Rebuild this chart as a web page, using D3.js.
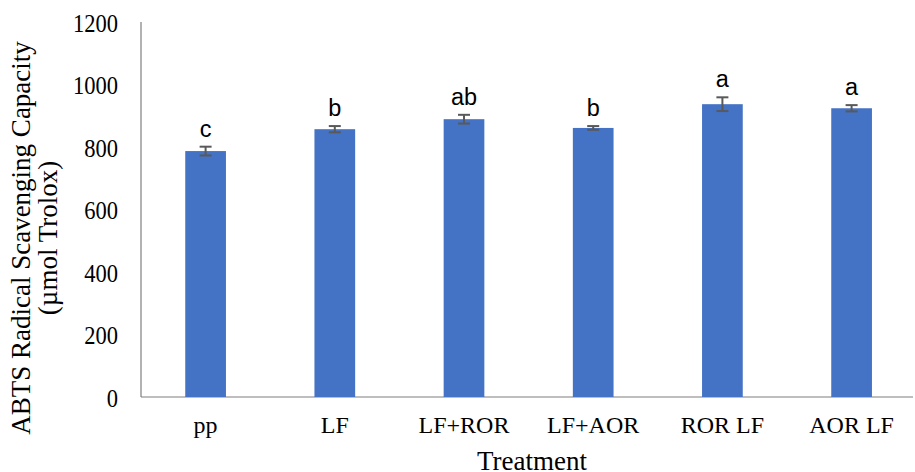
<!DOCTYPE html>
<html><head><meta charset="utf-8">
<script src="https://cdn.jsdelivr.net/npm/d3@7"></script>
<style>body{margin:0;background:#fff}</style>
</head><body>
<svg id="c" width="915" height="472"></svg>
<script>
const categories = ["pp","LF","LF+ROR","LF+AOR","ROR LF","AOR LF"];
const values = [787, 857, 889, 861, 937, 924];
const errors = [14, 10, 14, 6, 22, 10];
const letters = ["c","b","ab","b","a","a"];
const yTicks = [0,200,400,600,800,1000,1200];

const svg = d3.select("#c");
const m = {left:141, right:915, top:22, bottom:397};
const x = d3.scaleBand().domain(categories).range([m.left, m.left+6*129.2]).paddingInner(0.685).paddingOuter(0.3425);
const y = d3.scaleLinear().domain([0,1200]).range([m.bottom, m.top]);
const serif = "'Liberation Serif', 'Times New Roman', serif";

// axes lines
svg.append("line").attr("x1",m.left).attr("x2",m.left).attr("y1",y(1200)).attr("y2",y(0)).attr("stroke","#7f7f7f").attr("stroke-width",1.2);
svg.append("line").attr("x1",m.left).attr("x2",913).attr("y1",y(0)).attr("y2",y(0)).attr("stroke","#7f7f7f").attr("stroke-width",1.2);

// y tick labels
const fsT = 24.5;
svg.selectAll(".yt").data(yTicks).enter().append("text")
  .attr("transform",d=>`translate(118,${y(d)+9.5}) scale(0.92,1)`).attr("text-anchor","end")
  .attr("font-family",serif).attr("font-size",fsT).attr("fill","#000").text(d=>d);

// bars
svg.selectAll(".bar").data(categories).enter().append("rect")
  .attr("x",d=>x(d)).attr("width",x.bandwidth())
  .attr("y",(d,i)=>y(values[i])).attr("height",(d,i)=>y(0)-y(values[i]))
  .attr("fill","#4472C4");

// error bars
const eg = svg.selectAll(".err").data(categories).enter().append("g").attr("stroke","#595959").attr("stroke-width",2);
eg.append("line").attr("x1",d=>x(d)+x.bandwidth()/2).attr("x2",d=>x(d)+x.bandwidth()/2)
  .attr("y1",(d,i)=>y(values[i]+errors[i])).attr("y2",(d,i)=>y(values[i]-errors[i]));
eg.append("line").attr("x1",d=>x(d)+x.bandwidth()/2-6).attr("x2",d=>x(d)+x.bandwidth()/2+6)
  .attr("y1",(d,i)=>y(values[i]+errors[i])).attr("y2",(d,i)=>y(values[i]+errors[i]));
eg.append("line").attr("x1",d=>x(d)+x.bandwidth()/2-6).attr("x2",d=>x(d)+x.bandwidth()/2+6)
  .attr("y1",(d,i)=>y(values[i]-errors[i])).attr("y2",(d,i)=>y(values[i]-errors[i]));

// letters
svg.selectAll(".lt").data(categories).enter().append("text")
  .attr("x",d=>x(d)+x.bandwidth()/2).attr("y",(d,i)=>y(values[i]+errors[i])-10)
  .attr("text-anchor","middle").attr("font-family","'Liberation Sans', Arial, sans-serif").attr("font-size",23.5).attr("fill","#000")
  .text((d,i)=>letters[i]);

// x tick labels
svg.selectAll(".xt").data(categories).enter().append("text")
  .attr("x",d=>x(d)+x.bandwidth()/2).attr("y",433).attr("text-anchor","middle")
  .attr("font-family",serif).attr("font-size",24).attr("fill","#000").text(d=>d);

// axis titles
svg.append("text").attr("x",532).attr("y",470).attr("text-anchor","middle")
  .attr("font-family",serif).attr("font-size",27).text("Treatment");
const yl = svg.append("g").attr("transform","translate(0,238) rotate(-90)");
yl.append("text").attr("x",0).attr("y",30).attr("text-anchor","middle")
  .attr("font-family",serif).attr("font-size",27).text("ABTS Radical Scavenging Capacity");
yl.append("text").attr("x",0).attr("y",57).attr("text-anchor","middle")
  .attr("font-family",serif).attr("font-size",27).text("(µmol Trolox)");
</script>
</body></html>
